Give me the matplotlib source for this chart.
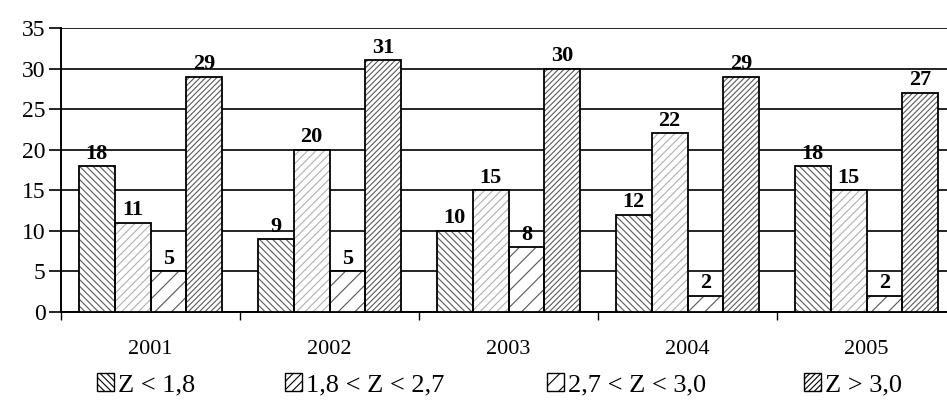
import matplotlib
matplotlib.use("Agg")
import matplotlib.pyplot as plt
import numpy as np

years = ["2001", "2002", "2003", "2004", "2005"]
series_names = ["Z < 1,8", "1,8 < Z < 2,7", "2,7 < Z < 3,0", "Z > 3,0"]
z_low = [18, 9, 10, 12, 18]
z_mid = [11, 20, 15, 22, 15]
z_high = [5, 5, 8, 2, 2]
z_top = [29, 31, 30, 29, 27]
series = [z_low, z_mid, z_high, z_top]

hatches = ["\\\\\\\\\\", "////", "//", "//////"]
hatch_colors = ["#5a5a5a", "#b0b0b0", "#555555", "#5a5a5a"]

plt.rcParams["font.family"] = ["Liberation Serif", "DejaVu Serif"]
plt.rcParams["hatch.linewidth"] = 0.8

fig = plt.figure(figsize=(9.47, 4.09), dpi=100)
ax = fig.add_axes([61/947, 97/409, 895/947, 284/409])

x = np.arange(len(years))
w = 0.2
for i, vals in enumerate(series):
    pos = x + (i - 1.5) * w
    ax.bar(pos, vals, width=w, facecolor="white", edgecolor="black",
           linewidth=0, zorder=3)
    ax.bar(pos, vals, width=w, facecolor="none", edgecolor=hatch_colors[i],
           linewidth=0, hatch=hatches[i], zorder=3.5)
    ax.bar(pos, vals, width=w, facecolor="none", edgecolor="black",
           linewidth=1.3, zorder=4)
    for p, v in zip(pos, vals):
        ax.text(p, v + 0.3, str(v), ha="center", va="bottom", fontsize=16,
                fontweight="bold", zorder=5)

ax.set_ylim(0, 35)
ax.set_xlim(-0.5, 4.5)
ax.set_yticks(range(0, 36, 5))
ax.tick_params(axis="y", labelsize=17, length=9, width=1.2, direction="out", pad=2)
ax.yaxis.grid(True, color="black", linewidth=1.2, zorder=0)
ax.set_axisbelow(True)
ax.set_xticks(x)
ax.set_xticklabels(years, fontsize=16)
ax.tick_params(axis="x", length=0, pad=20)
ax.set_xticks(np.arange(-0.5, 5, 1), minor=True)
ax.tick_params(axis="x", which="minor", length=6, width=1)
for s in ["top", "right"]:
    ax.spines[s].set_visible(False)
ax.spines["left"].set_linewidth(1.4)
ax.spines["bottom"].set_linewidth(1.4)

legend_x = [97, 285, 547, 804]
for i in range(4):
    h = plt.Rectangle((0, 0), 1, 1, facecolor="white", edgecolor="black",
                      hatch=hatches[i], linewidth=1)
    fig.legend([h], [series_names[i]], loc="center left", frameon=False,
               fontsize=19, bbox_to_anchor=(legend_x[i] / 947, 24 / 409),
               handlelength=0.65, handleheight=0.65, handletextpad=0.15,
               borderpad=0, borderaxespad=0)

fig.savefig("out.png", dpi=100)
